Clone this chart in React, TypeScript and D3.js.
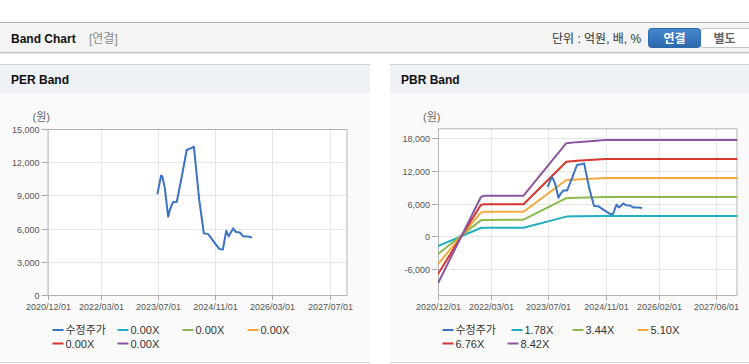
import React from 'react';
import * as d3 from 'd3';

// ---------- data ----------
const priceDates = [
  '2023-06-25', '2023-07-27', '2023-08-07', '2023-08-28', '2023-09-25', '2023-10-10',
  '2023-10-25', '2023-11-07', '2023-12-07', '2024-01-19', '2024-03-01', '2024-04-13',
  '2024-05-01', '2024-06-16', '2024-07-25', '2024-09-01', '2024-10-28', '2024-12-04',
  '2025-01-03', '2025-02-01', '2025-02-22', '2025-04-01', '2025-04-24', '2025-05-28',
  '2025-06-25', '2025-08-07', '2025-09-07',
];
const priceValues = [
  9100, 10800, 10700, 9640, 7080, 7700,
  8130, 8400, 8400, 10690, 13100, 13300,
  13400, 8580, 5570, 5500, 4670, 4160,
  4100, 5800, 5300, 6020, 5700, 5650,
  5300, 5280, 5200,
];

const bandDates = ['2020-12-01', '2021-12-01', '2022-01-01', '2022-12-01', '2023-12-01', '2024-03-01', '2024-11-01', '2027-12-01'];
const band178 = [-1780, 1520, 1570, 1580, 3620, 3680, 3740, 3740];
const band344 = [-3250, 2930, 3000, 3050, 7000, 7100, 7200, 7200];
const band510 = [-5090, 4350, 4500, 4500, 10350, 10450, 10700, 10700];
const band676 = [-6930, 5760, 5880, 5880, 13700, 13900, 14200, 14200];
const band842 = [-8640, 7170, 7460, 7460, 17100, 17300, 17700, 17700];

const perLegendLabels = ['수정주가', '0.00X', '0.00X', '0.00X', '0.00X', '0.00X'];
const pbrLegendLabels = ['수정주가', '1.78X', '3.44X', '5.10X', '6.76X', '8.42X'];

const perYTicks = [0, 3000, 6000, 9000, 12000, 15000];
const pbrYTicks = [-6000, 0, 6000, 12000, 18000];
const perXTicks = ['2020-12-01', '2022-03-01', '2023-07-01', '2024-11-01', '2026-03-01', '2027-07-01'];
const pbrXTicks = ['2020-12-01', '2022-03-01', '2023-07-01', '2024-11-01', '2026-02-01', '2027-06-01'];
const xDomainDates = ['2020-12-01', '2027-12-01'];
const perYDomain = [0, 15000];
const pbrYDomain = [-10780, 19840];

const seriesColors = ['#3a72c4', '#22aec3', '#8cb94f', '#f3a93b', '#d5352c', '#8d55a1'];

// ---------- helpers ----------
const parse = d3.timeParse('%Y-%m-%d');
const fmtDate = d3.timeFormat('%Y/%m/%d');
const fmtNum = (v: number) => (v < 0 ? '-' : '') + d3.format(',')(Math.abs(v));
const FONT = '"Liberation Sans", Arial, "Noto Sans CJK KR", sans-serif';

type Pt = { date: Date; v: number };
const zipSeries = (dates: string[], vals: number[]): Pt[] =>
  dates.map((d, i) => ({ date: parse(d) as Date, v: vals[i] }));

interface PanelProps {
  id: string;
  left: number;
  right: number;
  title: string;
  plot: { x0: number; x1: number; y0: number; y1: number };
  yDomain: number[];
  yTicks: number[];
  xTicks: string[];
  lines: { pts: Pt[]; color: string }[];
  legendLabels: string[];
  legendX: number[];
}

function Panel(p: PanelProps) {
  const { x0, x1, y0, y1 } = p.plot;
  const x = d3.scaleTime().domain(xDomainDates.map((d) => parse(d) as Date)).range([x0, x1]);
  const y = d3.scaleLinear().domain(p.yDomain).range([y1, y0]);
  const line = d3.line<Pt>().x((d) => x(d.date)).y((d) => y(d.v));
  const w = p.right - p.left;
  return (
    <g>
      <defs>
        <clipPath id={p.id + '-clip'}>
          <rect x={x0} y={y0} width={x1 - x0} height={y1 - y0} />
        </clipPath>
      </defs>
      {/* panel frame */}
      <rect x={p.left} y={64} width={w} height={1} fill="#cfd3d8" />
      <rect x={p.left} y={65} width={w} height={28} fill="#eef1f6" />
      <rect x={p.left} y={93} width={w} height={269} fill="#fafafa" />
      <rect x={p.left} y={362} width={w} height={1} fill="#d9d9d9" />
      <text x={p.left + 11} y={84} fontFamily={FONT} fontSize={12} fontWeight="bold" fill="#111">{p.title}</text>

      {/* plot area */}
      <rect x={x0} y={y0} width={x1 - x0} height={y1 - y0} fill="#ffffff" />
      {p.yTicks.map((t) => (
        <line key={'gy' + t} x1={x0} x2={x1} y1={Math.round(y(t)) + 0.5} y2={Math.round(y(t)) + 0.5} stroke="#e6e6e6" />
      ))}
      {p.xTicks.map((t) => {
        const xx = Math.round(x(parse(t) as Date)) + 0.5;
        return <line key={'gx' + t} x1={xx} x2={xx} y1={y0} y2={y1} stroke="#e6e6e6" />;
      })}
      <rect x={x0 + 0.5} y={y0 + 0.5} width={x1 - x0 - 1} height={y1 - y0} fill="none" stroke="#b4b4b4" />
      {/* y ticks */}
      {p.yTicks.map((t) => {
        const yy = Math.round(y(t)) + 0.5;
        return (
          <g key={'ty' + t}>
            <line x1={x0 - 6} x2={x0} y1={yy} y2={yy} stroke="#aaaaaa" />
            <text x={x0 - 8} y={yy + 3} textAnchor="end" fontFamily={FONT} fontSize={9} fill="#555">{fmtNum(t)}</text>
          </g>
        );
      })}
      {/* x ticks */}
      {p.xTicks.map((t) => {
        const xx = Math.round(x(parse(t) as Date)) + 0.5;
        return (
          <g key={'tx' + t}>
            <line x1={xx} x2={xx} y1={y1} y2={y1 + 5} stroke="#aaaaaa" />
            <text x={xx} y={310} textAnchor="middle" fontFamily={FONT} fontSize={9} fill="#555">{fmtDate(parse(t) as Date)}</text>
          </g>
        );
      })}
      <text x={x0 - 15} y={121} fontFamily={FONT} fontSize={11} fill="#666">(원)</text>

      {/* series */}
      <g clipPath={`url(#${p.id}-clip)`}>
        {p.lines.map((l, i) => (
          <path key={i} d={line(l.pts) || ''} fill="none" stroke={l.color} strokeWidth={2} strokeLinejoin="round" />
        ))}
      </g>

      {/* legend */}
      {p.legendLabels.map((lab, i) => {
        const row = i < 4 ? 0 : 1;
        const lx = p.legendX[i];
        const ly = row === 0 ? 330 : 343.5;
        return (
          <g key={'lg' + i}>
            <line x1={lx} x2={lx + 11} y1={ly} y2={ly} stroke={seriesColors[i]} strokeWidth={2} />
            <text x={lx + 13} y={ly + 4} fontFamily={FONT} fontSize={11} fill="#333">{lab}</text>
          </g>
        );
      })}
    </g>
  );
}

export default function App() {
  const price = zipSeries(priceDates, priceValues);
  const bands = [band178, band344, band510, band676, band842].map((b) => zipSeries(bandDates, b));
  const pbrLines = [
    ...bands.map((pts, i) => ({ pts, color: seriesColors[i + 1] })),
    { pts: price, color: seriesColors[0] },
  ];
  return (
    <svg width={749} height={364} style={{ position: 'absolute', left: 0, top: 0, background: '#fff' }}>
      {/* top header */}
      <rect x={0} y={22} width={749} height={1} fill="#b4b4b4" />
      <rect x={0} y={23} width={749} height={29} fill="#f4f4f4" />
      <rect x={0} y={52} width={749} height={1} fill="#c4c4c4" />
      <rect x={0} y={53} width={749} height={1} fill="#e2e2e2" />
      <text x={11} y={43} fontFamily={FONT} fontSize={12} fontWeight="bold" fill="#111">Band Chart</text>
      <text x={89} y={43} fontFamily={FONT} fontSize={12} fill="#8a8a8a">[연결]</text>
      <text x={552} y={43} fontFamily={FONT} fontSize={12} fill="#333">단위 : 억원, 배, %</text>
      <defs>
        <linearGradient id="btn" x1="0" x2="0" y1="0" y2="1">
          <stop offset="0" stopColor="#4688cf" />
          <stop offset="1" stopColor="#2a67ad" />
        </linearGradient>
      </defs>
      <rect x={700.5} y={28.5} width={52} height={19} rx={3} fill="#ffffff" stroke="#c4c4c4" />
      <rect x={648.5} y={28.5} width={52} height={19} rx={3} fill="url(#btn)" stroke="#2f6aa9" />
      <text x={674.5} y={42.5} textAnchor="middle" fontFamily={FONT} fontSize={12} fontWeight="bold" fill="#fff">연결</text>
      <text x={724.5} y={42.5} textAnchor="middle" fontFamily={FONT} fontSize={12} fontWeight="bold" fill="#666">별도</text>

      <Panel
        id="per"
        left={0}
        right={370}
        title="PER Band"
        plot={{ x0: 47.5, x1: 347.5, y0: 129, y1: 295 }}
        yDomain={perYDomain}
        yTicks={perYTicks}
        xTicks={perXTicks}
        lines={[{ pts: price, color: seriesColors[0] }]}
        legendLabels={perLegendLabels}
        legendX={[52.5, 117.5, 182.5, 247.5, 52.5, 117.5]}
      />
      <Panel
        id="pbr"
        left={390}
        right={749}
        title="PBR Band"
        plot={{ x0: 438, x1: 737.5, y0: 128.3, y1: 295 }}
        yDomain={pbrYDomain}
        yTicks={pbrYTicks}
        xTicks={pbrXTicks}
        lines={pbrLines}
        legendLabels={pbrLegendLabels}
        legendX={[442.5, 511.5, 572.5, 637.5, 442.5, 507.5]}
      />
    </svg>
  );
}
